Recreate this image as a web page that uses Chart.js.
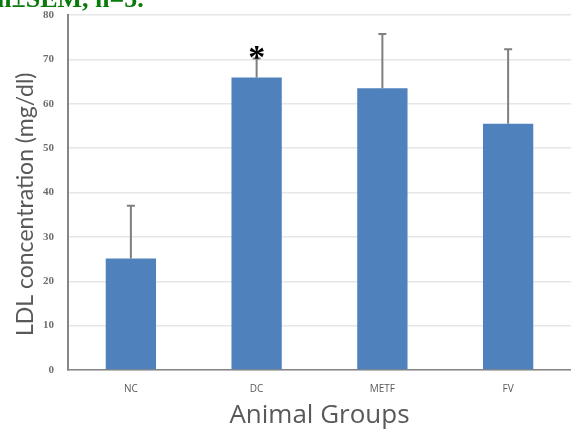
<!DOCTYPE html>
<html>
<head>
<meta charset="utf-8">
<script src="https://cdn.jsdelivr.net/npm/chart.js@4"></script>
<style>
  html, body { margin: 0; padding: 0; background: #fff; }
  #wrap { width: 571px; height: 432px; }
</style>
</head>
<body>
<div id="wrap"><canvas id="ldlChart" width="571" height="432"></canvas></div>
<script>
const groups = ['NC', 'DC', 'METF', 'FV'];
const ldlMeans = [25.1, 65.9, 63.5, 55.5];
const ldlSem = [11.9, 4.3, 12.2, 16.8];
const yTicks = [0, 10, 20, 30, 40, 50, 60, 70, 80];
const starGroups = ['DC'];

// upper error bars + significance star, placed from the y scale
const errorBars = {
    id: 'errorBars',
    afterDatasetsDraw(chart) {
        const ctx = chart.ctx;
        const meta = chart.getDatasetMeta(0);
        const y = chart.scales.y;
        ctx.save();
        ctx.strokeStyle = '#7f7f7f';
        ctx.lineWidth = 2;
        meta.data.forEach((bar, i) => {
            const top = y.getPixelForValue(ldlMeans[i] + ldlSem[i]);
            ctx.beginPath();
            ctx.moveTo(bar.x, bar.y);
            ctx.lineTo(bar.x, top);
            ctx.moveTo(bar.x - 4, top);
            ctx.lineTo(bar.x + 4, top);
            ctx.stroke();
            if (starGroups.includes(groups[i])) {
                ctx.fillStyle = '#000';
                ctx.font = 'bold 34px "Liberation Serif"';
                ctx.textAlign = 'center';
                ctx.textBaseline = 'alphabetic';
                ctx.fillText('*', bar.x, top + 10);
            }
        });
        // caption cut off at the top of the figure
        ctx.fillStyle = '#0a7a0a';
        ctx.font = 'bold 26px "Liberation Serif"';
        ctx.textAlign = 'left';
        ctx.fillText('n±SEM, n=5.', -3, 7);
        ctx.restore();
    }
};

new Chart(document.getElementById('ldlChart'), {
    type: 'bar',
    data: {
        labels: groups,
        datasets: [{
            data: ldlMeans,
            backgroundColor: '#4f81bd',
            borderWidth: 0,
            categoryPercentage: 1,
            barPercentage: 0.4
        }]
    },
    options: {
        responsive: false,
        animation: false,
        layout: { padding: { top: 15, right: 0, left: 0, bottom: 0 } },
        plugins: {
            legend: { display: false },
            tooltip: { enabled: false }
        },
        scales: {
            x: {
                grid: { display: false, drawTicks: false },
                border: { color: '#868686', width: 1.5 },
                ticks: {
                    color: '#595959',
                    font: { family: 'Open Sans', size: 10 },
                    padding: 13
                },
                title: {
                    display: true,
                    text: 'Animal Groups',
                    color: '#595959',
                    font: { family: 'Open Sans', size: 26 },
                    padding: { top: 0, bottom: 1 }
                },
                afterFit(scale) {
                    scale.height = 62;
                    scale.paddingLeft = 0;
                    scale.paddingRight = 0;
                }
            },
            y: {
                min: 0,
                max: 80,
                afterBuildTicks(scale) { scale.ticks = yTicks.map(v => ({ value: v })); },
                grid: { color: '#e6e6e6', lineWidth: 1.5, drawTicks: false },
                border: { color: '#868686', width: 2 },
                ticks: {
                    color: '#6d6d6d',
                    font: { family: 'Liberation Serif', size: 11, weight: 'bold' },
                    padding: 14
                },
                title: {
                    display: true,
                    text: 'LDL concentration (mg/dl)    ',
                    color: '#595959',
                    font: { family: 'Lato', size: 23 },
                    padding: { top: 12, bottom: 0 }
                },
                afterFit(scale) {
                    scale.width = 68;
                    scale.paddingTop = 0;
                    scale.paddingBottom = 0;
                }
            }
        }
    },
    plugins: [errorBars]
});
</script>
</body>
</html>
